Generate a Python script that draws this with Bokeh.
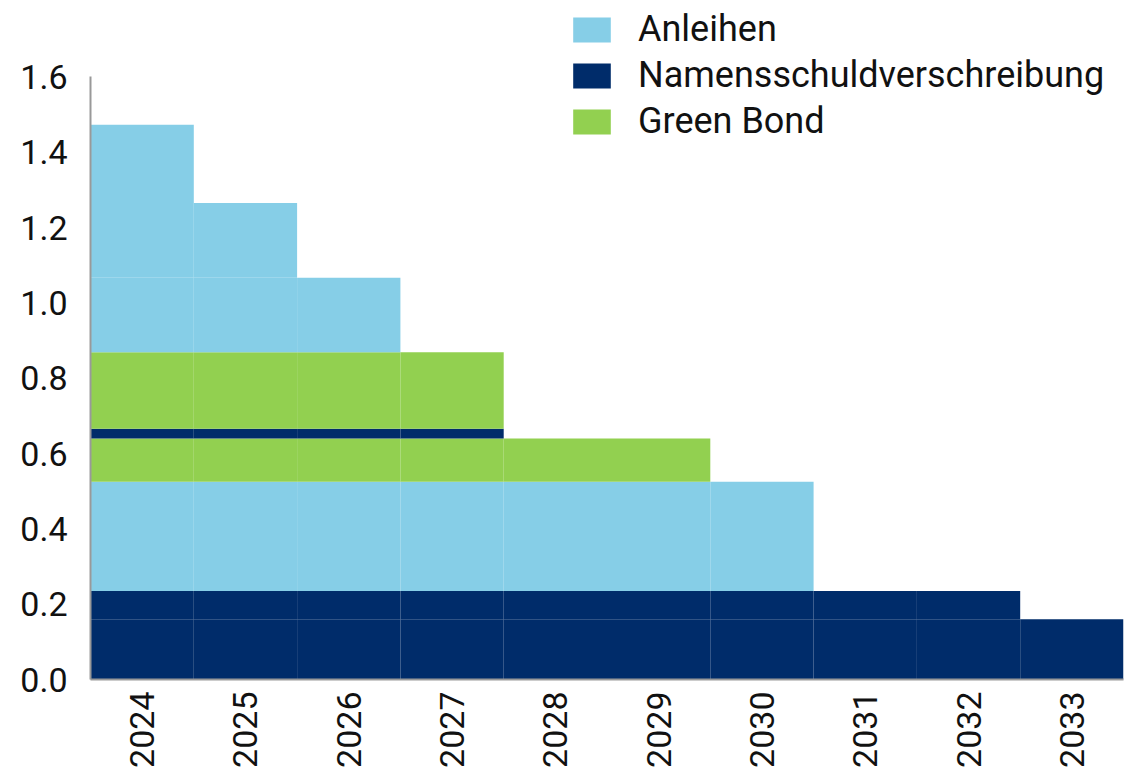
import math
from bokeh.plotting import figure
from bokeh.models import FactorRange, Range1d, FixedTicker, NumeralTickFormatter, Legend, LegendItem, ColumnDataSource
from bokeh.embed import file_html
from bokeh.resources import INLINE

years = ["2024", "2025", "2026", "2027", "2028", "2029", "2030", "2031", "2032", "2033"]

# stacked layers, bottom to top (values in bn)
nsv_a = [0.16, 0.16, 0.16, 0.16, 0.16, 0.16, 0.16, 0.16, 0.16, 0.16]
nsv_b = [0.075, 0.075, 0.075, 0.075, 0.075, 0.075, 0.075, 0.075, 0.075, 0.0]
anl_a = [0.29, 0.29, 0.29, 0.29, 0.29, 0.29, 0.29, 0.0, 0.0, 0.0]
gb_a = [0.115, 0.115, 0.115, 0.115, 0.115, 0.115, 0.0, 0.0, 0.0, 0.0]
nsv_c = [0.026, 0.026, 0.026, 0.026, 0.0, 0.0, 0.0, 0.0, 0.0, 0.0]
gb_b = [0.203, 0.203, 0.203, 0.203, 0.0, 0.0, 0.0, 0.0, 0.0, 0.0]
anl_b = [0.198, 0.198, 0.198, 0.0, 0.0, 0.0, 0.0, 0.0, 0.0, 0.0]
anl_c = [0.198, 0.198, 0.0, 0.0, 0.0, 0.0, 0.0, 0.0, 0.0, 0.0]
anl_d = [0.208, 0.0, 0.0, 0.0, 0.0, 0.0, 0.0, 0.0, 0.0, 0.0]

y_ticks = [0.0, 0.2, 0.4, 0.6, 0.8, 1.0, 1.2, 1.4, 1.6]

ANL = "#86CEE7"
NSV = "#002C6A"
GB = "#92D050"

layers = ["nsv_a", "nsv_b", "anl_a", "gb_a", "nsv_c", "gb_b", "anl_b", "anl_c", "anl_d"]
colors = [NSV, NSV, ANL, GB, NSV, GB, ANL, ANL, ANL]

source = ColumnDataSource(data=dict(
    years=years, nsv_a=nsv_a, nsv_b=nsv_b, anl_a=anl_a, gb_a=gb_a, nsv_c=nsv_c,
    gb_b=gb_b, anl_b=anl_b, anl_c=anl_c, anl_d=anl_d))

FONT = "Roboto"

p = figure(width=1133, height=770, output_backend="svg", toolbar_location=None,
           x_range=FactorRange(*years, range_padding=0),
           y_range=Range1d(0, 1.803),
           min_border_left=90, min_border_right=10, min_border_top=0, min_border_bottom=86)
p.outline_line_color = None
p.xgrid.grid_line_color = None
p.ygrid.grid_line_color = None
p.background_fill_color = "white"
p.border_fill_color = "white"

renderers = p.vbar_stack(layers, x="years", width=1.0, color=colors, line_color=None, source=source)

p.yaxis.ticker = FixedTicker(ticks=y_ticks)
p.yaxis.formatter = NumeralTickFormatter(format="0.0")
p.yaxis.bounds = (0, 1.6)
for ax in (p.xaxis, p.yaxis):
    ax.major_tick_line_color = None
    ax.minor_tick_line_color = None
    ax.axis_line_color = "#999999"
    ax.axis_line_width = 2
    ax.major_label_text_font = FONT
    ax.major_label_text_font_size = "34px"
    ax.major_label_text_color = "#111111"
p.yaxis.major_label_standoff = 17
p.xaxis.major_label_standoff = 6
p.xaxis.major_label_orientation = math.pi / 2

legend = Legend(items=[
    LegendItem(label="Anleihen", renderers=[renderers[2]]),
    LegendItem(label="Namensschuldverschreibung", renderers=[renderers[0]]),
    LegendItem(label="Green Bond", renderers=[renderers[3]]),
], location=(478, 537))
legend.glyph_width = 47
legend.glyph_height = 31
legend.label_height = 31
legend.label_standoff = 23
legend.spacing = 4
legend.padding = 0
legend.margin = 0
legend.border_line_color = None
legend.background_fill_alpha = 0
legend.label_text_font = FONT
legend.label_text_font_size = "36px"
legend.label_text_color = "#111111"
p.add_layout(legend, "center")

open("out.html", "w").write(file_html(p, INLINE))
